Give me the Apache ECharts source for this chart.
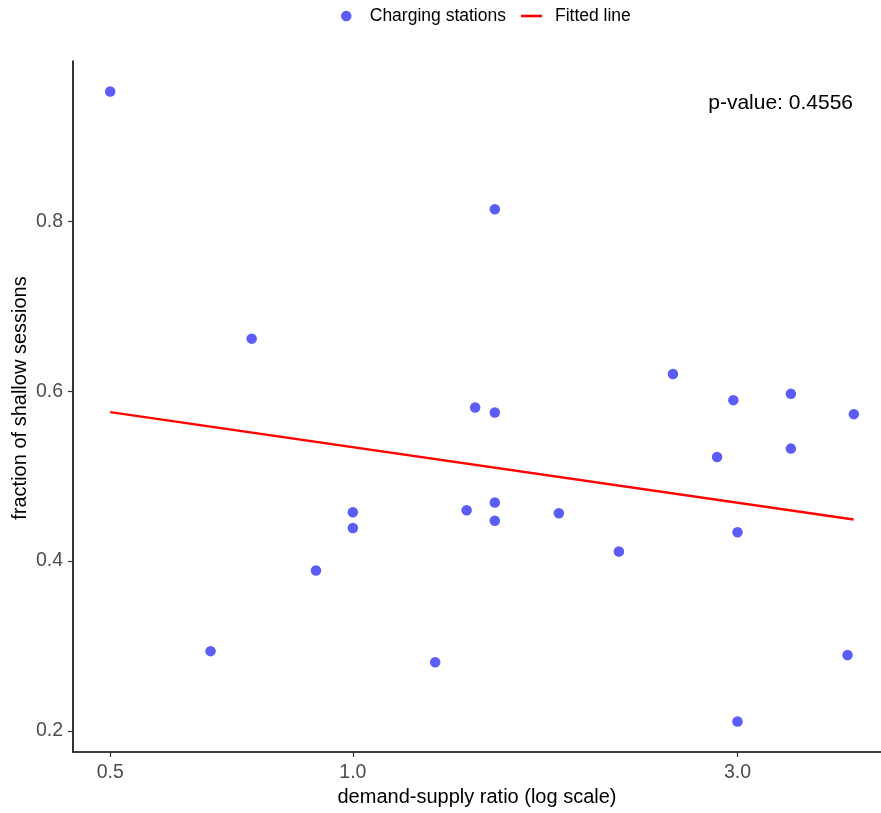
<!DOCTYPE html>
<html>
<head>
<meta charset="utf-8">
<script src="https://cdn.jsdelivr.net/npm/echarts@6/dist/echarts.min.js"></script>
<style>html,body{margin:0;padding:0;background:#fff}#c{width:881px;height:813px}</style>
</head>
<body>
<div id="c"></div>
<script>
const ratio = [0.5, 0.666, 0.749, 0.900, 1.0, 1.0, 1.265, 1.384, 1.418, 1.50, 1.50, 1.50, 1.50, 1.801, 2.138, 2.495, 2.830, 2.965, 3.0, 3.0, 3.494, 3.494, 4.108, 4.183];
const fraction = [0.953, 0.294, 0.662, 0.389, 0.4575, 0.439, 0.281, 0.460, 0.581, 0.8145, 0.575, 0.469, 0.4476, 0.4563, 0.4114, 0.6203, 0.5227, 0.5896, 0.434, 0.2112, 0.597, 0.5325, 0.2894, 0.5731];
const fitX = [0.5, 4.18];
const fitY = [0.5755, 0.449];
const xTicks = [0.5, 1.0, 3.0];
const yTicks = [0.2, 0.4, 0.6, 0.8];
const pValueText = 'p-value: 0.4556';

const FONT = 'Liberation Sans, Arial, sans-serif';
const chart = echarts.init(document.getElementById('c'), null, {renderer: 'canvas'});
const pts = ratio.map((r, i) => [Math.log(r), fraction[i]]);
const fit = fitX.map((r, i) => [Math.log(r), fitY[i]]);

chart.setOption({
  animation: false,
  backgroundColor: '#fff',
  textStyle: {fontFamily: FONT},
  legend: {
    top: 2, left: 336,
    itemWidth: 21, itemHeight: 10.5, itemGap: 15,
    textStyle: {fontSize: 17.5, color: '#000', fontFamily: FONT, padding: [0, 0, 0, 8]},
    data: [
      {name: 'Charging stations', icon: 'circle', itemStyle: {color: '#5c5cf6'}},
      {name: 'Fitted line', icon: 'path://M0,0 L21,0 L21,2.6 L0,2.6 Z', itemStyle: {color: '#ff0000'}}
    ]
  },
  grid: {left: 73, right: 0, top: 61, bottom: 61, containLabel: false, outerBoundsMode: 'none'},
  xAxis: {
    type: 'value',
    min: Math.log(0.4496), max: Math.log(4.52),
    name: 'demand-supply ratio (log scale)', nameLocation: 'middle', nameGap: 35,
    nameTextStyle: {fontSize: 20, color: '#000', fontFamily: FONT},
    axisLine: {show: true, onZero: false, lineStyle: {color: '#000', width: 1.6}},
    axisTick: {show: true, length: 5, lineStyle: {color: '#333', width: 1.2}, customValues: xTicks.map(v => Math.log(v))},
    axisLabel: {fontSize: 19.5, color: '#4d4d4d', margin: 11, fontFamily: FONT,
      customValues: xTicks.map(v => Math.log(v)),
      formatter: v => Math.exp(v).toFixed(1)},
    splitLine: {show: false}
  },
  yAxis: {
    type: 'value',
    min: 0.1752, max: 0.989,
    axisLine: {show: true, onZero: false, lineStyle: {color: '#000', width: 1.6}},
    axisTick: {show: true, length: 5, lineStyle: {color: '#333', width: 1.2}, customValues: yTicks},
    axisLabel: {fontSize: 19.5, color: '#4d4d4d', margin: 10, fontFamily: FONT,
      customValues: yTicks, formatter: v => v.toFixed(1)},
    splitLine: {show: false}
  },
  series: [
    {
      name: 'Charging stations', type: 'scatter', data: pts,
      symbol: 'circle', symbolSize: 10.5,
      itemStyle: {color: '#5c5cf6', opacity: 1},
      z: 3
    },
    {
      name: 'Fitted line', type: 'line', data: fit,
      symbol: 'none', showSymbol: false,
      lineStyle: {color: '#ff0000', width: 2.4},
      itemStyle: {color: '#ff0000'},
      z: 2
    }
  ],
  graphic: [
    {
      type: 'text', right: 28, top: 93,
      style: {text: pValueText, fontSize: 21, fill: '#000', fontFamily: FONT}
    },
    {
      type: 'text', x: 20, y: 398, rotation: Math.PI / 2,
      style: {text: 'fraction of shallow sessions', fontSize: 20, fill: '#000', fontFamily: FONT,
        align: 'center', verticalAlign: 'middle'}
    }
  ]
});
</script>
</body>
</html>
